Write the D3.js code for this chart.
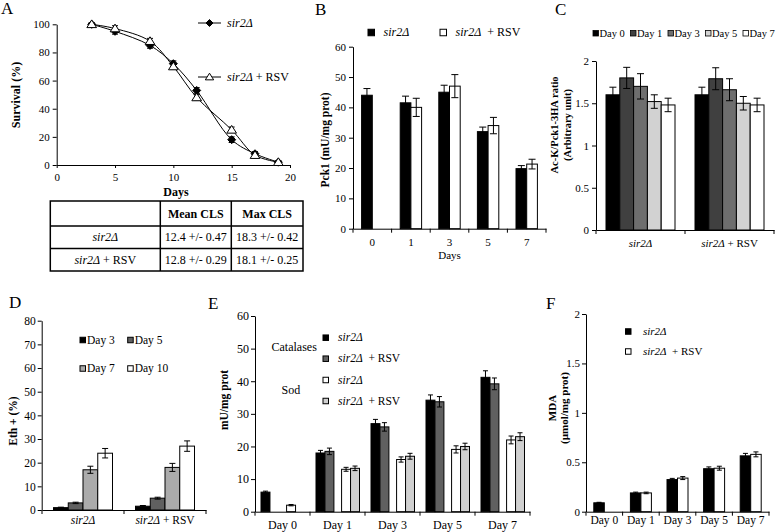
<!DOCTYPE html>
<html><head><meta charset="utf-8">
<script src="https://cdn.jsdelivr.net/npm/d3@7"></script>
<style>body{margin:0;background:#fff}svg{display:block}svg text{font-family:"Liberation Serif","Times New Roman",serif}</style>
</head><body>
<script>
// ---------- DATA ----------
// Panel A: survival curves
const aDays = [3, 5, 8, 10, 12, 15, 17, 19];
const aSir2 = [100, 95, 85, 72, 53, 18, 8, 2];
const aSir2Err = [1, 2, 2, 2, 2, 2, 1.5, 1];
const aRsv = [100, 97, 88, 70, 48, 25, 7, 2];
const aRsvErr = [1, 2, 2, 2, 2, 2, 1.5, 1];
const aXTicks = [0, 5, 10, 15, 20];
const aYTicks = [0, 20, 40, 60, 80, 100];
const tableHeader = ["", "Mean CLS", "Max CLS"];
const tableRows = [
  ["sir2Δ", "12.4 +/- 0.47", "18.3 +/- 0.42"],
  ["sir2Δ + RSV", "12.8 +/- 0.29", "18.1 +/- 0.25"]
];
// Panel B: Pck1 activity
const bDays = ["0", "1", "3", "5", "7"];
const bSir2 = [44, 41.5, 45, 32, 19.8];
const bSir2Err = [2.2, 2.2, 2.3, 1.5, 1];
const bRsv = [null, 40, 47, 34, 21.3];
const bRsvErr = [0, 3, 3.8, 2.7, 1.6];
const bYTicks = [0, 10, 20, 30, 40, 50, 60];
// Panel C: Ac-K/Pck1 ratio
const cGroups = ["sir2Δ", "sir2Δ + RSV"];
const cDays = ["Day 0", "Day 1", "Day 3", "Day 5", "Day 7"];
const cValues = [[1.6, 1.8, 1.7, 1.52, 1.48], [1.6, 1.79, 1.66, 1.5, 1.48]];
const cErrs = [[0.09, 0.125, 0.15, 0.08, 0.08], [0.09, 0.13, 0.13, 0.08, 0.08]];
const cYTicks = [0, 0.5, 1, 1.5, 2];
// Panel D: Eth+
const dGroups = ["sir2Δ", "sir2Δ + RSV"];
const dDays = ["Day 3", "Day 5", "Day 7", "Day 10"];
const dValues = [[1, 3, 17, 24], [1.6, 5, 18, 27]];
const dErrs = [[0.2, 0.3, 1.5, 2], [0.3, 0.4, 1.7, 2.2]];
const dYTicks = [0, 10, 20, 30, 40, 50, 60, 70, 80];
// Panel E: Catalases / Sod
const eDays = ["Day 0", "Day 1", "Day 3", "Day 5", "Day 7"];
const eCatSir2 = [6, 18, 27, 34.2, 41.2];
const eCatSir2Err = [0.3, 0.8, 1.3, 1.6, 2];
const eCatRsv = [null, 18.5, 26, 33.7, 39.2];
const eCatRsvErr = [0, 1, 1.3, 1.6, 1.8];
const eSodSir2 = [2, 13, 16, 19.1, 22];
const eSodSir2Err = [0.2, 0.6, 0.8, 1.1, 1.2];
const eSodRsv = [null, 13.3, 17, 20, 23];
const eSodRsvErr = [0, 0.7, 0.9, 1, 1.2];
const eYTicks = [0, 10, 20, 30, 40, 50, 60];
// Panel F: MDA
const fDays = ["Day 0", "Day 1", "Day 3", "Day 5", "Day 7"];
const fSir2 = [0.09, 0.19, 0.325, 0.435, 0.565];
const fSir2Err = [0.005, 0.008, 0.012, 0.018, 0.025];
const fRsv = [null, 0.19, 0.34, 0.44, 0.58];
const fRsvErr = [0, 0.008, 0.015, 0.02, 0.025];
const fYTicks = [0, 0.5, 1, 1.5, 2];

// ---------- SETUP ----------
const FONT = "Liberation Serif, Times New Roman, serif";
const svg = d3.select("body").append("svg")
  .attr("width", 777).attr("height", 532)
  .attr("font-family", FONT);
svg.append("rect").attr("width", 777).attr("height", 532).attr("fill", "#fff");

function rich(sel, str) {
  sel.text(null);
  if (str.startsWith("sir2Δ")) {
    sel.append("tspan").attr("font-style", "italic").text("sir2Δ");
    const rest = str.slice(5);
    if (rest) sel.append("tspan").attr("font-style", "normal").text(rest);
  } else sel.text(str);
}

function styleAxis(g, fs) {
  g.attr("font-family", FONT).attr("font-size", fs);
  g.selectAll("path,line").attr("stroke", "#000").attr("stroke-width", 1);
  g.selectAll("text").attr("fill", "#000");
}

function yAxis(x0, y, ticks, pad, fs) {
  const g = svg.append("g").attr("transform", `translate(${x0},0)`);
  g.call(d3.axisLeft(y).tickValues(ticks).tickSize(4).tickSizeOuter(0)
    .tickPadding(pad).tickFormat(d => String(d)));
  styleAxis(g, fs);
  return g;
}

function catAxis(xBand, y0, pad, fs) {
  const g = svg.append("g").attr("transform", `translate(0,${y0})`);
  g.call(d3.axisBottom(xBand).tickSize(0).tickSizeOuter(0).tickPadding(pad));
  styleAxis(g, fs);
  g.selectAll(".tick text").each(function (d) { rich(d3.select(this), d); });
  const bounds = xBand.domain().map(d => xBand(d)).concat([xBand.range()[1]]);
  g.selectAll("line.bt").data(bounds).enter().append("line").attr("class", "bt")
    .attr("x1", d => d).attr("x2", d => d).attr("y1", 0).attr("y2", 4)
    .attr("stroke", "#000");
  return g;
}

function errBar(g, x, yTop, yBot, cap) {
  g.append("line").attr("x1", x).attr("x2", x).attr("y1", yTop).attr("y2", yBot)
    .attr("stroke", "#000").attr("stroke-width", 1);
  [yTop, yBot].forEach(yy => g.append("line").attr("x1", x - cap / 2).attr("x2", x + cap / 2)
    .attr("y1", yy).attr("y2", yy).attr("stroke", "#000").attr("stroke-width", 1));
}

function bars(g, recs, y, cap) {
  recs.filter(r => r.v != null).forEach(r => {
    g.append("rect").attr("x", r.x).attr("width", r.w)
      .attr("y", y(r.v)).attr("height", y(0) - y(r.v))
      .attr("fill", r.fill).attr("stroke", "#000").attr("stroke-width", 1);
    if (r.e) errBar(g, r.x + r.w / 2, y(r.v + r.e), y(r.v - r.e), cap);
  });
}

function yTitle(lines, x, cy, fs, gap) {
  const t = svg.append("text").attr("transform", `translate(${x},${cy}) rotate(-90)`)
    .attr("text-anchor", "middle").attr("font-weight", "bold").attr("font-size", fs)
    .attr("fill", "#000");
  lines.forEach((l, i) => t.append("tspan").attr("x", 0).attr("dy", i ? gap : 0).text(l));
}

function panelLetter(l, x, y) {
  svg.append("text").attr("x", x).attr("y", y).attr("font-size", 17).attr("fill", "#000").text(l);
}

function legendItem(x, yc, fill, label, fs, sz) {
  svg.append("rect").attr("x", x).attr("y", yc - sz / 2).attr("width", sz).attr("height", sz)
    .attr("fill", fill).attr("stroke", "#000").attr("stroke-width", 1);
  const t = svg.append("text").attr("x", x + sz + (fs > 11 ? 9 : 2)).attr("y", yc + fs * 0.33)
    .attr("font-size", fs).attr("fill", "#000");
  rich(t, label);
  return t;
}

// ---------- PANEL A ----------
panelLetter("A", 1, 14);
const xA = d3.scaleLinear().domain([0, 20]).range([56.7, 290]);
const yA = d3.scaleLinear().domain([0, 100]).range([165, 24.3]);
yAxis(56.7, yA, aYTicks, 3, 11);
{
  const g = svg.append("g").attr("transform", "translate(0,165)");
  g.call(d3.axisBottom(xA).tickValues(aXTicks).tickSize(3).tickSizeOuter(0).tickPadding(5));
  styleAxis(g, 11);
}
yTitle(["Survival  (%)"], 20, 95, 12, 0);
svg.append("text").attr("x", 176).attr("y", 196).attr("text-anchor", "middle")
  .attr("font-weight", "bold").attr("font-size", 12).text("Days");

const lineA = d3.line().x(d => xA(d[0])).y(d => yA(d[1])).curve(d3.curveCatmullRom.alpha(0.5));
const gA = svg.append("g");
const sirPts = aDays.map((d, i) => [d, aSir2[i], aSir2Err[i]]);
const rsvPts = aDays.map((d, i) => [d, aRsv[i], aRsvErr[i]]);
gA.append("path").attr("d", lineA(sirPts)).attr("fill", "none").attr("stroke", "#000").attr("stroke-width", 1);
gA.append("path").attr("d", lineA(rsvPts)).attr("fill", "none").attr("stroke", "#000").attr("stroke-width", 1);
sirPts.concat(rsvPts).forEach(p => errBar(gA, xA(p[0]), yA(p[1] + p[2]), yA(p[1] - p[2]), 6));
function diamond(g, cx, cy, r) {
  g.append("path").attr("d", `M${cx},${cy - r}L${cx + r},${cy}L${cx},${cy + r}L${cx - r},${cy}Z`)
    .attr("fill", "#000").attr("stroke", "#000");
}
function triangle(g, cx, cy, r) {
  g.append("path").attr("d", `M${cx},${cy - r}L${cx + r * 1.1},${cy + r * 0.75}L${cx - r * 1.1},${cy + r * 0.75}Z`)
    .attr("fill", "#fff").attr("stroke", "#000").attr("stroke-width", 1);
}
sirPts.forEach(p => diamond(gA, xA(p[0]), yA(p[1]), 4));
rsvPts.forEach(p => triangle(gA, xA(p[0]), yA(p[1]), 4.4));
// legend A
svg.append("line").attr("x1", 198).attr("x2", 221).attr("y1", 23).attr("y2", 23).attr("stroke", "#000");
diamond(svg, 209.5, 23, 3.5);
rich(svg.append("text").attr("x", 227).attr("y", 27).attr("font-size", 12), "sir2Δ");
svg.append("line").attr("x1", 198).attr("x2", 221).attr("y1", 77).attr("y2", 77).attr("stroke", "#000");
triangle(svg, 209.5, 77, 3.8);
rich(svg.append("text").attr("x", 227).attr("y", 81).attr("font-size", 12), "sir2Δ + RSV");

// table
const tX = [50.3, 160.3, 231.3, 303];
const tY = [201, 226, 248.5, 271];
const gT = svg.append("g");
gT.append("rect").attr("x", tX[0]).attr("y", tY[0]).attr("width", tX[3] - tX[0]).attr("height", tY[3] - tY[0])
  .attr("fill", "none").attr("stroke", "#000").attr("stroke-width", 1.5);
[tX[1], tX[2]].forEach(x => gT.append("line").attr("x1", x).attr("x2", x).attr("y1", tY[0]).attr("y2", tY[3]).attr("stroke", "#000").attr("stroke-width", 1.5));
[tY[1], tY[2]].forEach(y => gT.append("line").attr("x1", tX[0]).attr("x2", tX[3]).attr("y1", y).attr("y2", y).attr("stroke", "#000").attr("stroke-width", 1.5));
[tableHeader].concat(tableRows).forEach((row, ri) => {
  row.forEach((cell, ci) => {
    const t = gT.append("text").attr("x", (tX[ci] + tX[ci + 1]) / 2).attr("y", (tY[ri] + tY[ri + 1]) / 2 + 4)
      .attr("text-anchor", "middle").attr("font-size", 12).attr("fill", "#000")
      .attr("font-weight", ri === 0 ? "bold" : "normal");
    rich(t, cell);
  });
});

// ---------- PANEL B ----------
panelLetter("B", 315, 15);
const xB = d3.scaleBand().domain(bDays).range([353, 546]);
const yB = d3.scaleLinear().domain([0, 60]).range([228.7, 46.7]);
const sB = d3.scaleBand().domain(["sir2", "rsv"]).range([-10.7, 10.7]);
{
  const g = svg.append("g");
  const recs = [];
  bDays.forEach((d, i) => {
    const c = xB(d) + xB.bandwidth() / 2;
    recs.push({ x: c + sB("sir2"), w: sB.bandwidth(), v: bSir2[i], e: bSir2Err[i], fill: "#000" });
    recs.push({ x: c + sB("rsv"), w: sB.bandwidth(), v: bRsv[i], e: bRsvErr[i], fill: "#fff" });
  });
  bars(g, recs, yB, 7);
}
yAxis(353, yB, bYTicks, 3, 11);
catAxis(xB, 228.7, 10, 11);
yTitle(["Pck1 (mU/mg prot)"], 329, 140, 11.5, 0);
svg.append("text").attr("x", 449.5).attr("y", 259).attr("text-anchor", "middle").attr("font-size", 11).text("Days");
legendItem(368, 32.5, "#000", "sir2Δ", 12, 6.5);
legendItem(440, 32.5, "#fff", "sir2Δ  + RSV", 12, 6.5).attr("xml:space", "preserve");

// ---------- PANEL C ----------
panelLetter("C", 555, 15);
const cColors = ["#000", "#404040", "#6e6e6e", "#d2d2d2", "#fff"];
const xC = d3.scaleBand().domain(cGroups).range([596, 774]);
const yC = d3.scaleLinear().domain([0, 2]).range([230, 61]);
const sC = d3.scaleBand().domain(cDays).range([-34.5, 34.5]);
{
  const g = svg.append("g");
  const recs = [];
  cGroups.forEach((grp, gi) => {
    const c = xC(grp) + xC.bandwidth() / 2;
    cDays.forEach((d, di) => recs.push({ x: c + sC(d), w: sC.bandwidth(), v: cValues[gi][di], e: cErrs[gi][di], fill: cColors[di] }));
  });
  bars(g, recs, yC, 7);
}
yAxis(596, yC, cYTicks, 3, 11);
catAxis(xC, 230, 9, 11);
yTitle(["Ac-K/Pck1-3HA ratio", "(Arbitrary unit)"], 558, 125, 10.5, 13);
cDays.forEach((d, i) => {
  const x = 593 + i * 37.5;
  svg.append("rect").attr("x", x).attr("y", 30.5).attr("width", 5.5).attr("height", 5.5)
    .attr("fill", cColors[i]).attr("stroke", "#000").attr("stroke-width", 0.8);
  svg.append("text").attr("x", x + 6.5).attr("y", 37).attr("font-size", 10.5).text(d);
});

// ---------- PANEL D ----------
panelLetter("D", 9, 308);
const dColors = ["#000", "#606060", "#ababab", "#fff"];
const xD = d3.scaleBand().domain(dGroups).range([42, 206]);
const yD = d3.scaleLinear().domain([0, 80]).range([510, 320.7]);
const sD = d3.scaleBand().domain(dDays).range([-29.5, 29.5]);
{
  const g = svg.append("g");
  const recs = [];
  dGroups.forEach((grp, gi) => {
    const c = xD(grp) + xD.bandwidth() / 2;
    dDays.forEach((d, di) => recs.push({ x: c + sD(d), w: sD.bandwidth(), v: dValues[gi][di], e: dErrs[gi][di], fill: dColors[di] }));
  });
  bars(g, recs, yD, 6);
}
yAxis(41.7, yD, dYTicks, 2, 11.5);
catAxis(xD, 510, 6, 11.5);
yTitle(["Eth + (%)"], 17, 421, 11.5, 0);
dDays.forEach((d, i) => {
  const x = i % 2 === 0 ? 80 : 127.7;
  const yc = i < 2 ? 340 : 368.5;
  legendItem(x, yc, dColors[i], d, 11.5, 5.5).attr("x", x + 7);
});

// ---------- PANEL E ----------
panelLetter("E", 208, 309);
const xE = d3.scaleBand().domain(eDays).range([255, 530]);
const yE = d3.scaleLinear().domain([0, 60]).range([511.7, 316]);
const pE = d3.scaleBand().domain(["cat", "sod"]).range([6, 49.5]).paddingInner(0.3);
const sE = d3.scaleBand().domain(["sir2", "rsv"]).range([0, pE.bandwidth()]);
const eColors = { cat: { sir2: "#000", rsv: "#606060" }, sod: { sir2: "#fff", rsv: "#d0d0d0" } };
{
  const g = svg.append("g");
  const recs = [];
  const src = {
    cat: { sir2: [eCatSir2, eCatSir2Err], rsv: [eCatRsv, eCatRsvErr] },
    sod: { sir2: [eSodSir2, eSodSir2Err], rsv: [eSodRsv, eSodRsvErr] }
  };
  eDays.forEach((d, i) => {
    ["cat", "sod"].forEach(p => ["sir2", "rsv"].forEach(s => {
      recs.push({ x: xE(d) + pE(p) + sE(s), w: sE.bandwidth(), v: src[p][s][0][i], e: src[p][s][1][i], fill: eColors[p][s] });
    }));
  });
  bars(g, recs, yE, 5);
}
yAxis(255, yE, eYTicks, 2, 12);
catAxis(xE, 511.7, 9, 12);
yTitle(["mU/mg prot"], 228, 400, 11.5, 0);
legendItem(323, 337.7, "#000", "sir2Δ", 11.5, 5.5).attr("x", 338);
legendItem(323, 358.7, "#606060", "sir2Δ  + RSV", 11.5, 5.5).attr("x", 338).attr("xml:space", "preserve");
legendItem(323, 380, "#fff", "sir2Δ", 11.5, 5.5).attr("x", 338);
legendItem(323, 401, "#d0d0d0", "sir2Δ  + RSV", 11.5, 5.5).attr("x", 338).attr("xml:space", "preserve");
svg.append("text").attr("x", 271.5).attr("y", 351).attr("font-size", 12).text("Catalases");
svg.append("text").attr("x", 281.5).attr("y", 394).attr("font-size", 12).text("Sod");

// ---------- PANEL F ----------
panelLetter("F", 546, 309);
const xF = d3.scaleBand().domain(fDays).range([586, 769]);
const yF = d3.scaleLinear().domain([0, 2]).range([511.7, 314]);
const sF = d3.scaleBand().domain(["sir2", "rsv"]).range([-10.5, 10.5]);
{
  const g = svg.append("g");
  const recs = [];
  fDays.forEach((d, i) => {
    const c = xF(d) + xF.bandwidth() / 2;
    recs.push({ x: c + sF("sir2"), w: sF.bandwidth(), v: fSir2[i], e: fSir2Err[i], fill: "#000" });
    recs.push({ x: c + sF("rsv"), w: sF.bandwidth(), v: fRsv[i], e: fRsvErr[i], fill: "#fff" });
  });
  bars(g, recs, yF, 5);
}
yAxis(586, yF, fYTicks, 2, 11);
catAxis(xF, 511.7, 4, 11.5);
yTitle(["MDA", "(µmol/mg prot)"], 556, 408, 11, 12);
legendItem(625.5, 331.5, "#000", "sir2Δ", 11, 5.5).attr("x", 643);
legendItem(625.5, 351.5, "#fff", "sir2Δ  + RSV", 11, 5.5).attr("x", 643).attr("xml:space", "preserve");
</script>
</body></html>
